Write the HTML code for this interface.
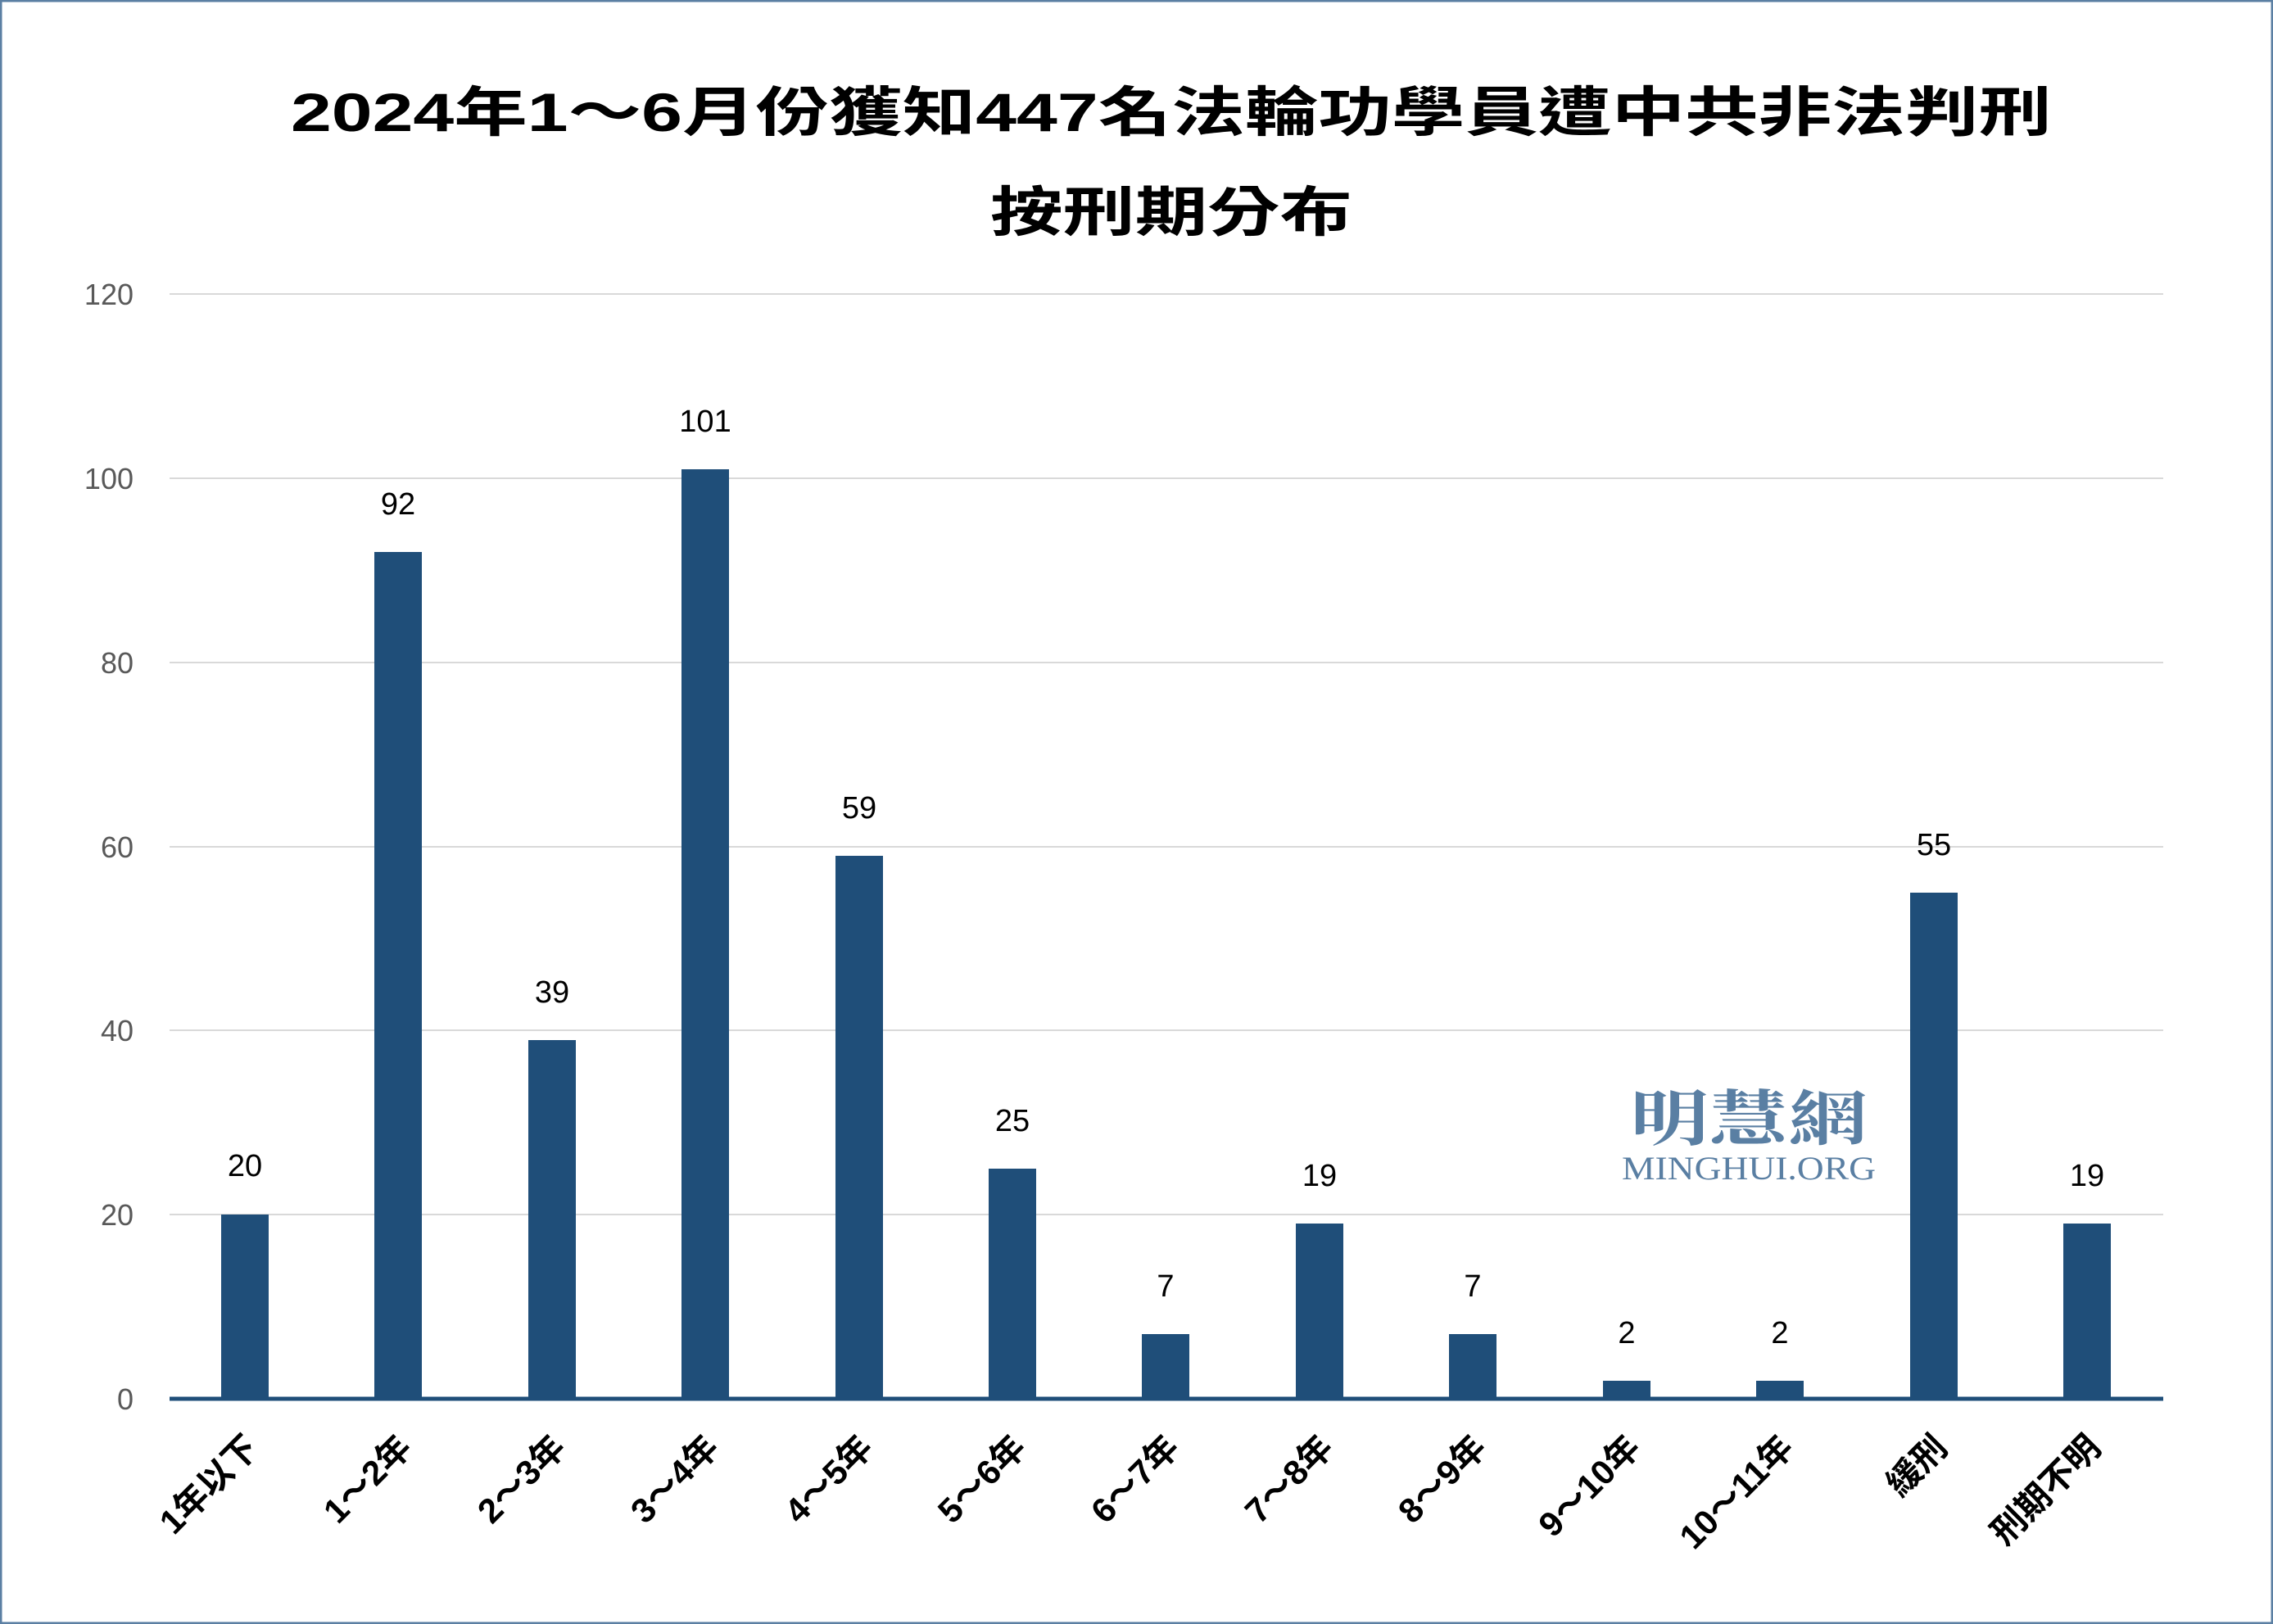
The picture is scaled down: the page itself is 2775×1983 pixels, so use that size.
<!DOCTYPE html>
<html><head><meta charset="utf-8"><style>
html,body{margin:0;padding:0;background:#fff;}
svg{display:block;}
</style></head><body>
<svg width="2775" height="1983" viewBox="0 0 2775 1983" xmlns="http://www.w3.org/2000/svg">
<rect x="1" y="1" width="2773" height="1981" fill="#fff" stroke="#5b7fa3" stroke-width="3"/>
<g font-family="'Liberation Sans','Noto Sans CJK TC',sans-serif" font-weight="bold" fill="#000">
<text x="1430" y="160" font-size="66" text-anchor="middle" textLength="2150" lengthAdjust="spacingAndGlyphs">2024年1～6月份獲知447名法輪功學員遭中共非法判刑</text>
<text x="1430" y="282" font-size="66" text-anchor="middle" textLength="442" lengthAdjust="spacingAndGlyphs">按刑期分布</text>
</g>
<g stroke="#d9d9d9" stroke-width="2">
<line x1="207" y1="1483" x2="2641" y2="1483"/>
<line x1="207" y1="1258" x2="2641" y2="1258"/>
<line x1="207" y1="1034" x2="2641" y2="1034"/>
<line x1="207" y1="809" x2="2641" y2="809"/>
<line x1="207" y1="584" x2="2641" y2="584"/>
<line x1="207" y1="359" x2="2641" y2="359"/>
</g>
<g font-family="'Liberation Sans',sans-serif" font-size="36" fill="#595959" text-anchor="end">
<text x="163" y="1721">0</text>
<text x="163" y="1496">20</text>
<text x="163" y="1271">40</text>
<text x="163" y="1047">60</text>
<text x="163" y="822">80</text>
<text x="163" y="597">100</text>
<text x="163" y="372">120</text>
</g>
<g fill="#1f4e79">
<rect x="270" y="1483" width="58" height="225"/>
<rect x="457" y="674" width="58" height="1034"/>
<rect x="645" y="1270" width="58" height="438"/>
<rect x="832" y="573" width="58" height="1135"/>
<rect x="1020" y="1045" width="58" height="663"/>
<rect x="1207" y="1427" width="58" height="281"/>
<rect x="1394" y="1629" width="58" height="79"/>
<rect x="1582" y="1494" width="58" height="214"/>
<rect x="1769" y="1629" width="58" height="79"/>
<rect x="1957" y="1686" width="58" height="22"/>
<rect x="2144" y="1686" width="58" height="22"/>
<rect x="2332" y="1090" width="58" height="618"/>
<rect x="2519" y="1494" width="58" height="214"/>
</g>
<line x1="207" y1="1708" x2="2641" y2="1708" stroke="#1f4e79" stroke-width="5"/>
<g font-family="'Liberation Sans',sans-serif" font-size="38" fill="#000" text-anchor="middle">
<text x="299" y="1436">20</text>
<text x="486" y="628">92</text>
<text x="674" y="1224">39</text>
<text x="861" y="527">101</text>
<text x="1049" y="999">59</text>
<text x="1236" y="1381">25</text>
<text x="1423" y="1583">7</text>
<text x="1611" y="1448">19</text>
<text x="1798" y="1583">7</text>
<text x="1986" y="1640">2</text>
<text x="2173" y="1640">2</text>
<text x="2361" y="1044">55</text>
<text x="2548" y="1448">19</text>
</g>
<g font-family="'Liberation Sans','Noto Sans CJK TC',sans-serif" font-size="42" font-weight="bold" fill="#000" text-anchor="end">
<text transform="translate(318,1770) rotate(-45)">1年以下</text>
<text transform="translate(505,1770) rotate(-45)">1～2年</text>
<text transform="translate(693,1770) rotate(-45)">2～3年</text>
<text transform="translate(880,1770) rotate(-45)">3～4年</text>
<text transform="translate(1068,1770) rotate(-45)">4～5年</text>
<text transform="translate(1255,1770) rotate(-45)">5～6年</text>
<text transform="translate(1442,1770) rotate(-45)">6～7年</text>
<text transform="translate(1630,1770) rotate(-45)">7～8年</text>
<text transform="translate(1817,1770) rotate(-45)">8～9年</text>
<text transform="translate(2005,1770) rotate(-45)">9～10年</text>
<text transform="translate(2192,1770) rotate(-45)">10～11年</text>
<text transform="translate(2380,1770) rotate(-45)">緩刑</text>
<text transform="translate(2567,1770) rotate(-45)">刑期不明</text>
</g>
<g fill="#5a7fa3" text-anchor="middle">
<text x="2135" y="1392" font-family="'Noto Serif CJK SC','Noto Sans CJK TC',serif" font-weight="bold" font-size="74" textLength="290" lengthAdjust="spacingAndGlyphs">明慧網</text>
<text x="2135" y="1440" font-family="'Liberation Serif',serif" font-size="40" textLength="310" lengthAdjust="spacingAndGlyphs">MINGHUI.ORG</text>
</g>
</svg>
</body></html>
